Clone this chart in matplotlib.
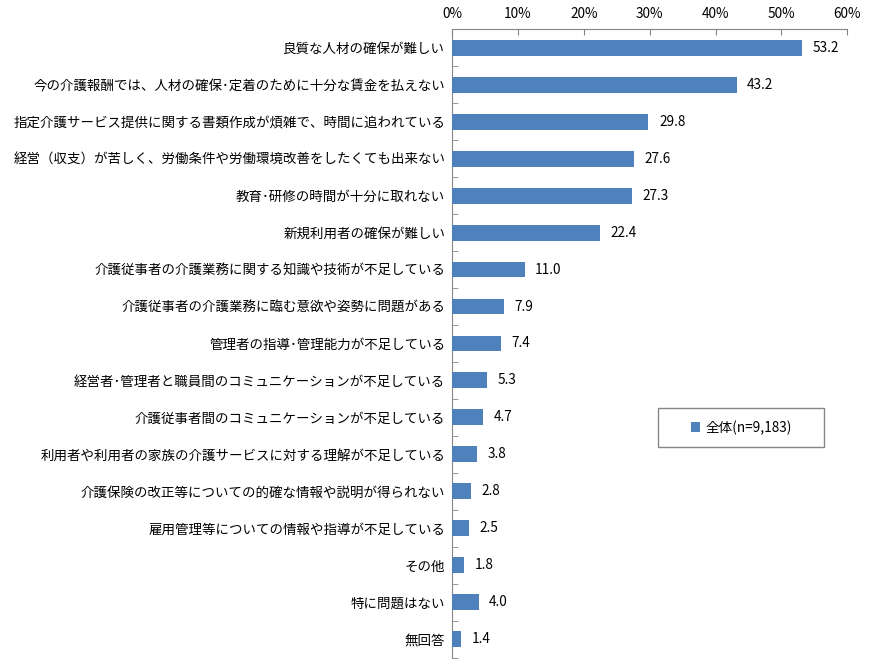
import matplotlib
matplotlib.use("Agg")
import matplotlib.pyplot as plt
from matplotlib.ticker import FuncFormatter, MultipleLocator, FixedLocator
from matplotlib.patches import Rectangle
import numpy as np

plt.rcParams['font.family'] = ['Noto Sans CJK JP', 'DejaVu Sans']

categories = [
    "良質な人材の確保が難しい",
    "今の介護報酬では、人材の確保･定着のために十分な賃金を払えない",
    "指定介護サービス提供に関する書類作成が煩雑で、時間に追われている",
    "経営（収支）が苦しく、労働条件や労働環境改善をしたくても出来ない",
    "教育･研修の時間が十分に取れない",
    "新規利用者の確保が難しい",
    "介護従事者の介護業務に関する知識や技術が不足している",
    "介護従事者の介護業務に臨む意欲や姿勢に問題がある",
    "管理者の指導･管理能力が不足している",
    "経営者･管理者と職員間のコミュニケーションが不足している",
    "介護従事者間のコミュニケーションが不足している",
    "利用者や利用者の家族の介護サービスに対する理解が不足している",
    "介護保険の改正等についての的確な情報や説明が得られない",
    "雇用管理等についての情報や指導が不足している",
    "その他",
    "特に問題はない",
    "無回答",
]
values = [53.2, 43.2, 29.8, 27.6, 27.3, 22.4, 11.0, 7.9, 7.4, 5.3, 4.7, 3.8, 2.8, 2.5, 1.8, 4.0, 1.4]
series_name = "全体(n=9,183)"

fig = plt.figure(figsize=(8.78, 6.65), dpi=100)
ax = fig.add_axes([0.515, 0.011, 0.450, 0.945])

y = np.arange(len(categories))
ax.barh(y, values, height=0.43, color="#4F81BD", label=series_name, zorder=3)
ax.set_ylim(len(categories) - 0.5, -0.5)
ax.set_xlim(0, 60)

ax.xaxis.tick_top()
ax.xaxis.set_major_locator(MultipleLocator(10))
ax.xaxis.set_major_formatter(FuncFormatter(lambda v, p: f"{int(v)}%"))
ax.tick_params(axis='x', direction='in', length=4, color='#868686', labelsize=9.8, pad=6)

ax.set_yticks(y)
ax.set_yticklabels(categories, fontsize=9.7)
ax.yaxis.set_minor_locator(FixedLocator(np.arange(-0.5, len(categories), 1.0)))
ax.tick_params(axis='y', which='major', length=0, pad=5)
ax.tick_params(axis='y', which='minor', direction='in', length=4, color='#868686')

for s in ['right', 'bottom']:
    ax.spines[s].set_visible(False)
for s in ['top', 'left']:
    ax.spines[s].set_color('#868686')

for yi, v in zip(y, values):
    ax.text(v + 1.6, yi, f"{v:.1f}", va='center', ha='left', fontsize=9.8)

# legend box
ax.add_patch(Rectangle((0.5215, 0.335), 0.4205, 0.062, transform=ax.transAxes,
                       facecolor='white', edgecolor='#868686', linewidth=1.0,
                       zorder=4, clip_on=False))
leg = ax.legend(loc='center', bbox_to_anchor=(0.732, 0.366), frameon=False,
                fontsize=9.8, handlelength=0.7, handleheight=0.7, handletextpad=0.4,
                borderpad=0, borderaxespad=0)
leg.set_zorder(5)

fig.savefig("out.png", dpi=100)
